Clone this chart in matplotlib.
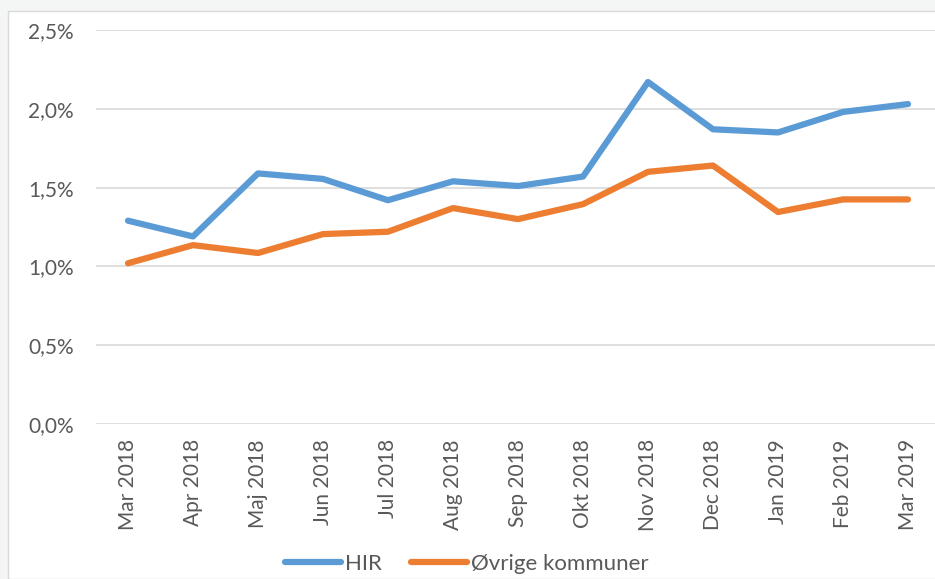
import matplotlib.pyplot as plt
from matplotlib.patches import Rectangle
from matplotlib.ticker import FuncFormatter

months = ["Mar 2018", "Apr 2018", "Maj 2018", "Jun 2018", "Jul 2018", "Aug 2018",
          "Sep 2018", "Okt 2018", "Nov 2018", "Dec 2018", "Jan 2019", "Feb 2019",
          "Mar 2019"]
hir = [1.29, 1.19, 1.59, 1.555, 1.42, 1.54, 1.51, 1.57, 2.17, 1.87, 1.85, 1.98, 2.03]
ovrige = [1.02, 1.135, 1.085, 1.205, 1.22, 1.37, 1.30, 1.395, 1.60, 1.64, 1.345, 1.425, 1.425]
yticks = [0.0, 0.5, 1.0, 1.5, 2.0, 2.5]

plt.rcParams['font.family'] = ['Lato', 'DejaVu Sans']
W, H = 935, 579
txt = '#595959'

fig = plt.figure(figsize=(W / 100, H / 100), dpi=100, facecolor='#f4f5f5')
fig.patches.append(Rectangle((8 / W, 0), 1, (H - 11) / H, transform=fig.transFigure,
                             facecolor='white', edgecolor='#d9d9d9', lw=1, zorder=-10))

ax = fig.add_axes([96 / W, 1 - 424 / H, (W - 96) / W, (424 - 30) / H])
ax.set_facecolor('none')
x = list(range(len(months)))
ax.plot(x, hir, color='#5B9BD5', lw=4.5, solid_capstyle='round', solid_joinstyle='round', label='HIR')
ax.plot(x, ovrige, color='#ED7D31', lw=4.5, solid_capstyle='round', solid_joinstyle='round',
        label='Øvrige kommuner')

ax.set_xlim(-32 / 65, 12 + 27 / 65)
ax.set_ylim(0, 2.5)
ax.set_yticks(yticks)
ax.yaxis.set_major_formatter(FuncFormatter(lambda v, p: f"{v:.1f}%".replace('.', ',')))
ax.set_xticks(x)
ax.set_xticklabels(months, rotation=90)
ax.grid(axis='y', color='#d9d9d9', lw=1.2)
ax.set_axisbelow(True)
for s in ax.spines.values():
    s.set_visible(False)
ax.tick_params(axis='both', length=0, labelsize=15, labelcolor=txt)
ax.tick_params(axis='y', pad=16)
ax.tick_params(axis='x', pad=11)

fig.legend(loc='center', bbox_to_anchor=(467 / W, 1 - 564 / H), ncol=2, frameon=False,
           fontsize=16, labelcolor=txt, handlelength=2.5, handletextpad=0.2,
           columnspacing=1.3)

fig.savefig('out.png', dpi=100, facecolor=fig.get_facecolor())
